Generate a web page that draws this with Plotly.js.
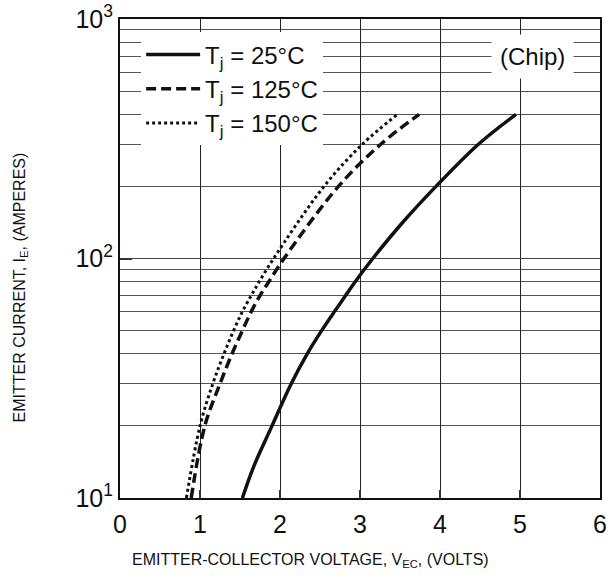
<!DOCTYPE html>
<html>
<head>
<meta charset="utf-8">
<script src="https://cdn.plot.ly/plotly-3.0.1.min.js"></script>
<style>html,body{margin:0;padding:0;background:#fff;}#chart{width:608px;height:577px;}</style>
</head>
<body>
<div id="chart"></div>
<script>
// Emitter current (A) sample points
const current25 = [10, 13.5, 20, 30, 40, 50, 60, 70, 80, 100, 141, 200, 300, 400];
const voltage25 = [1.53, 1.67, 1.90, 2.14, 2.34, 2.52, 2.68, 2.82, 2.94, 3.16, 3.53, 3.95, 4.48, 4.95];

const current125 = [10, 20, 30, 40, 50, 60, 70, 80, 100, 200, 300, 400];
const voltage125 = [0.89, 1.06, 1.25, 1.40, 1.53, 1.64, 1.75, 1.86, 2.05, 2.73, 3.26, 3.74];

const current150 = [10, 20, 30, 40, 50, 60, 70, 80, 100, 200, 300, 400];
const voltage150 = [0.83, 1.00, 1.16, 1.30, 1.42, 1.53, 1.64, 1.74, 1.92, 2.55, 3.03, 3.47];

const seriesNames = ['T<sub>j</sub> = 25°C', 'T<sub>j</sub> = 125°C', 'T<sub>j</sub> = 150°C'];

const xTicks = [0, 1, 2, 3, 4, 5, 6];
const yTickVals = [10, 100, 1000];
const yTickText = ['10<sup>1</sup>', '10<sup>2</sup>', '10<sup>3</sup>'];
const yMinorVals = [20, 30, 40, 50, 60, 70, 80, 90, 200, 300, 400, 500, 600, 700, 800, 900];

const xTitle = 'EMITTER-COLLECTOR VOLTAGE, V<sub>EC</sub>, (VOLTS)';
const yTitle = 'EMITTER CURRENT, I<sub>E</sub>, (AMPERES)';

const fontFam = '"Liberation Sans", Arial, Helvetica, sans-serif';

const traces = [
  {x: voltage25, y: current25, name: seriesNames[0], legendgroup: 'a', mode: 'lines',
   line: {color: '#111', width: 3.5, shape: 'spline', smoothing: 1}},
  {x: voltage125, y: current125, name: seriesNames[1], legendgroup: 'b', mode: 'lines',
   line: {color: '#111', width: 3.5, dash: '10px,5px', shape: 'spline', smoothing: 1}},
  {x: voltage150, y: current150, name: seriesNames[2], legendgroup: 'c', mode: 'lines',
   line: {color: '#111', width: 3, dash: '3px,3px', shape: 'spline', smoothing: 1}}
];

const layout = {
  width: 608, height: 577,
  margin: {l: 120, r: 8, t: 19, b: 79},
  paper_bgcolor: '#fff', plot_bgcolor: '#fff',
  font: {family: fontFam, color: '#111'},
  showlegend: true,
  legend: {
    x: 0.044, y: 0.972, xanchor: 'left', yanchor: 'top',
    bgcolor: '#fff', borderwidth: 0,
    font: {size: 24, family: fontFam, color: '#111'},
    tracegroupgap: 0, itemwidth: 54
  },
  xaxis: {
    range: [0, 6], tickvals: xTicks, ticktext: xTicks.map(String),
    showgrid: true, gridcolor: '#222', gridwidth: 1,
    showline: true, linecolor: '#111', linewidth: 2, mirror: true,
    ticks: 'inside', ticklen: 8, tickwidth: 2, tickcolor: '#333',
    ticklabelstandoff: 3,
    tickfont: {size: 25, family: fontFam, color: '#111'},
    zeroline: false
  },
  yaxis: {
    type: 'log', range: [1, 3],
    tickmode: 'array', tickvals: yTickVals, ticktext: yTickText,
    showgrid: true, gridcolor: '#444', gridwidth: 1,
    showline: true, linecolor: '#111', linewidth: 2, mirror: true,
    ticks: 'inside', ticklen: 12, tickwidth: 2, tickcolor: '#333',
    tickfont: {size: 25, family: fontFam, color: '#111'},
    minor: {tickmode: 'array', tickvals: yMinorVals, showgrid: true, gridcolor: '#555', gridwidth: 1, ticks: ''},
    zeroline: false
  },
  annotations: [
    {xref: 'paper', yref: 'paper', x: 0.86, y: 0.921, text: '(Chip)', showarrow: false,
     font: {size: 24, family: fontFam, color: '#111'}, bgcolor: '#fff', borderpad: 8,
     xanchor: 'center', yanchor: 'middle'},
    {xref: 'paper', yref: 'paper', x: 0.396, y: -0.131, text: xTitle, showarrow: false,
     font: {size: 16, family: fontFam, color: '#111'}, xanchor: 'center', yanchor: 'middle'},
    {xref: 'paper', yref: 'paper', x: -0.208, y: 0.44, text: yTitle, showarrow: false,
     textangle: -90, font: {size: 16, family: fontFam, color: '#111'},
     xanchor: 'center', yanchor: 'middle'}
  ]
};

Plotly.newPlot('chart', traces, layout, {staticPlot: true, displayModeBar: false});
</script>
</body>
</html>
